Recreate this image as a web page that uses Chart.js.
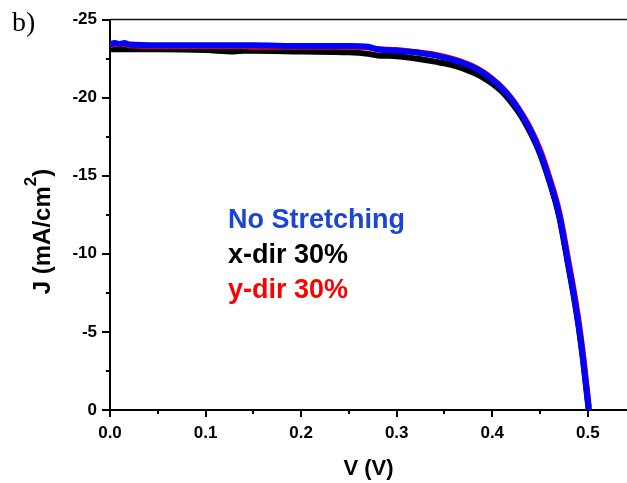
<!DOCTYPE html>
<html>
<head>
<meta charset="utf-8">
<script src="https://cdn.jsdelivr.net/npm/chart.js@4/dist/chart.umd.min.js"></script>
<style>
    html, body { margin: 0; padding: 0; background: #fff; }
    #jvChart { display: block; }
</style>
</head>
<body>
<canvas id="jvChart" width="627" height="483"></canvas>
<script>
// J-V curves of the stretched / unstretched cells

// Voltage grid (V) shared by all three sweeps
const voltage = [0, 0.005, 0.01, 0.015, 0.02, 0.05, 0.1, 0.13, 0.14, 0.15, 0.2, 0.25, 0.27, 0.28, 0.3, 0.32, 0.34, 0.36, 0.38, 0.39, 0.4, 0.41, 0.42, 0.43, 0.44, 0.45, 0.46, 0.47, 0.48, 0.485, 0.49, 0.495, 0.5, 0.501];

// Current density (mA/cm2)
const jNoStretch = [-23.4, -23.5, -23.42, -23.5, -23.4, -23.35, -23.35, -23.35, -23.35, -23.35, -23.3, -23.3, -23.25, -23.1, -23.0, -22.9, -22.7, -22.4, -21.95, -21.6, -21.15, -20.6, -19.9, -19.0, -17.9, -16.5, -14.7, -12.5, -9.2, -7.5, -5.6, -3.3, -0.6, 0];
const jYDir30 = [-23.35, -23.45, -23.4, -23.45, -23.35, -23.3, -23.3, -23.3, -23.3, -23.25, -23.25, -23.25, -23.2, -23.1, -23.05, -22.9, -22.75, -22.45, -22.0, -21.65, -21.2, -20.65, -19.95, -19.05, -18.0, -16.65, -14.85, -12.7, -9.45, -7.75, -5.85, -3.55, -0.8, -0.2];
const jXDir30 = [-23.1, -23.1, -23.1, -23.1, -23.1, -23.1, -23.05, -22.95, -23.0, -23.0, -22.95, -22.9, -22.8, -22.7, -22.65, -22.5, -22.3, -22.05, -21.6, -21.3, -20.9, -20.4, -19.7, -18.85, -17.75, -16.4, -14.6, -12.4, -9.1, -7.4, -5.5, -3.2, -0.5, 0];

// Axis ticks (labelled every 0.1 V / 5 mA/cm2, minor in between)
const xTicks = [0, 0.05, 0.1, 0.15, 0.2, 0.25, 0.3, 0.35, 0.4, 0.45, 0.5];
const yTicks = [-25, -22.5, -20, -17.5, -15, -12.5, -10, -7.5, -5, -2.5, 0];
const xRange = [0, 0.541];
const yRange = [-25, 0];

const legendItems = [
    { text: 'No Stretching', color: '#1b45d6' },
    { text: 'x-dir 30%', color: '#000000' },
    { text: 'y-dir 30%', color: '#ff0000' }
];

const FONT = '"Liberation Sans", Arial, sans-serif';

function toPoints(ys) {
    return voltage.map((v, i) => ({ x: v, y: ys[i] }));
}

function isMajorX(v) { return Math.round(v * 100) % 10 === 0; }
function isMajorY(v) { return v % 5 === 0; }

// Tick marks, top frame, axis title with superscript, text legend and panel letter
const decorPlugin = {
    id: 'decor',
    afterDraw(chart) {
        const { ctx, chartArea: a, scales } = chart;
        const x = scales.x, y = scales.y;
        ctx.save();

        // top frame line
        ctx.strokeStyle = '#111';
        ctx.lineWidth = 1.5;
        ctx.beginPath();
        ctx.moveTo(a.left, a.top);
        ctx.lineTo(a.right, a.top);
        ctx.stroke();

        // tick marks, pointing outward
        ctx.strokeStyle = '#000';
        ctx.lineWidth = 2;
        ctx.beginPath();
        xTicks.forEach(v => {
            const px = Math.round(x.getPixelForValue(v));
            ctx.moveTo(px, a.bottom);
            ctx.lineTo(px, a.bottom + (isMajorX(v) ? 7 : 4));
        });
        yTicks.forEach(v => {
            const py = Math.round(y.getPixelForValue(v));
            ctx.moveTo(a.left, py);
            ctx.lineTo(a.left - (isMajorY(v) ? 8 : 4), py);
        });
        ctx.stroke();

        // y axis title: J (mA/cm^2)
        const mainFont = 'bold 24px ' + FONT;
        const supFont = 'bold 17px ' + FONT;
        const parts = [
            { t: 'J (mA/cm', f: mainFont, dy: 0 },
            { t: '2', f: supFont, dy: -14 },
            { t: ')', f: mainFont, dy: 0 }
        ];
        let total = 0;
        parts.forEach(p => { ctx.font = p.f; p.w = ctx.measureText(p.t).width; total += p.w; });
        ctx.translate(50, 231.5);
        ctx.rotate(-Math.PI / 2);
        ctx.fillStyle = '#000';
        ctx.textBaseline = 'alphabetic';
        ctx.textAlign = 'left';
        let cx = -total / 2;
        parts.forEach(p => {
            ctx.font = p.f;
            ctx.fillText(p.t, cx, p.dy);
            cx += p.w;
        });
        ctx.setTransform(1, 0, 0, 1, 0, 0);

        // legend as coloured text
        ctx.font = 'bold 27px ' + FONT;
        ctx.textAlign = 'left';
        ctx.textBaseline = 'alphabetic';
        legendItems.forEach((item, i) => {
            ctx.fillStyle = item.color;
            ctx.fillText(item.text, 228, 228 + i * 35);
        });

        // panel letter
        ctx.fillStyle = '#000';
        ctx.font = '28px "Liberation Serif", "Times New Roman", serif';
        ctx.fillText('b)', 12, 31);

        ctx.restore();
    }
};

document.addEventListener('DOMContentLoaded', function() {
    const ctx = document.getElementById('jvChart');

    const lineStyle = {
        borderWidth: 6,
        pointRadius: 0,
        fill: false,
        tension: 0,
        cubicInterpolationMode: 'monotone',
        borderJoinStyle: 'round',
        borderCapStyle: 'butt'
    };

    window.jvChart = new Chart(ctx, {
        type: 'line',
        data: {
            // first dataset is drawn on top
            datasets: [
                Object.assign({ label: 'No Stretching', data: toPoints(jNoStretch), borderColor: '#0000ff' }, lineStyle),
                Object.assign({ label: 'y-dir 30%', data: toPoints(jYDir30), borderColor: '#ff0000' }, lineStyle),
                Object.assign({ label: 'x-dir 30%', data: toPoints(jXDir30), borderColor: '#000000' }, lineStyle)
            ]
        },
        options: {
            responsive: false,
            devicePixelRatio: 1,
            animation: false,
            layout: { padding: { top: 19.5, right: 0, bottom: 0, left: 0 } },
            plugins: {
                legend: { display: false },
                tooltip: { enabled: false }
            },
            scales: {
                x: {
                    type: 'linear',
                    min: xRange[0],
                    max: xRange[1],
                    afterBuildTicks: function(scale) {
                        scale.ticks = xTicks.map(v => ({ value: v }));
                    },
                    afterFit: function(scale) { scale.height = 73; },
                    grid: { display: false, drawTicks: true, tickLength: 7 },
                    border: { display: true, color: '#000', width: 2 },
                    ticks: {
                        color: '#000',
                        padding: 6,
                        maxRotation: 0,
                        autoSkip: false,
                        font: { family: FONT, size: 17, weight: 'bold' },
                        callback: function(value) {
                            return isMajorX(value) ? value.toFixed(1) : '';
                        }
                    },
                    title: {
                        display: true,
                        text: 'V (V)',
                        color: '#000',
                        padding: { top: 0, bottom: 1 },
                        font: { family: FONT, size: 22, weight: 'bold' }
                    }
                },
                y: {
                    type: 'linear',
                    reverse: true,
                    min: yRange[0],
                    max: yRange[1],
                    afterBuildTicks: function(scale) {
                        scale.ticks = yTicks.map(v => ({ value: v }));
                    },
                    afterFit: function(scale) { scale.width = 110; },
                    grid: { display: false, drawTicks: true, tickLength: 8 },
                    border: { display: true, color: '#000', width: 2 },
                    ticks: {
                        color: '#000',
                        padding: 5,
                        autoSkip: false,
                        font: { family: FONT, size: 17, weight: 'bold' },
                        callback: function(value) {
                            return isMajorY(value) ? String(value) : '';
                        }
                    }
                }
            }
        },
        plugins: [decorPlugin]
    });
});
</script>
</body>
</html>
